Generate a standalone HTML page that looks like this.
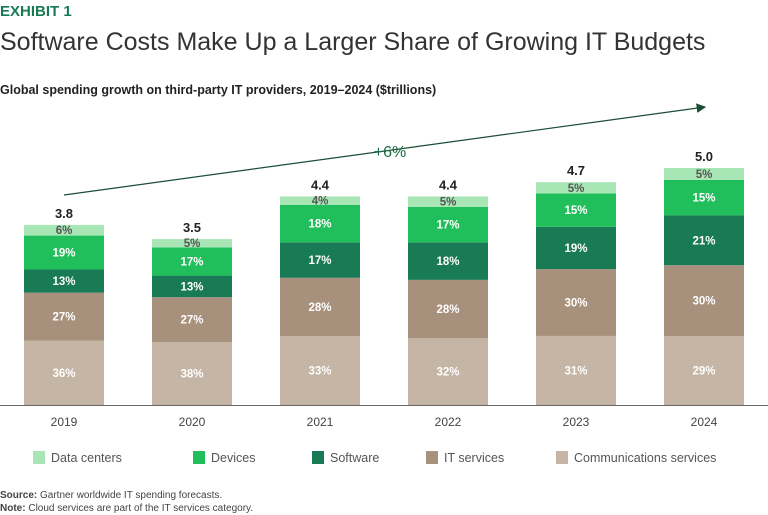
<!DOCTYPE html>
<html><head><meta charset="utf-8">
<style>
body{margin:0;background:#fff;font-family:"Liberation Sans",sans-serif;}
#wrap{position:relative;width:768px;height:515px;overflow:hidden;}
</style></head>
<body>
<div id="wrap">
<svg id="chart" width="768" height="515" font-family="Liberation Sans, sans-serif">
  <text x="0" y="16" font-size="15" font-weight="bold" fill="#197a56">EXHIBIT 1</text>
  <text x="0" y="50" font-size="25" fill="#333">Software Costs Make Up a Larger Share of Growing IT Budgets</text>
  <text x="0" y="94" font-size="12.5" font-weight="bold" fill="#222">Global spending growth on third-party IT providers, 2019–2024 ($trillions)</text>
  <g id="bars"></g>
  <line x1="0" y1="405.5" x2="768" y2="405.5" stroke="#666" stroke-width="1"/>
  <defs><marker id="ah" markerWidth="8" markerHeight="8" refX="7" refY="4" orient="auto"><path d="M0,0L8,4L0,8z" fill="#1b4d36"/></marker></defs>
  <line x1="64" y1="195" x2="705" y2="107" stroke="#1b4d36" stroke-width="1.2" marker-end="url(#ah)"/>
  <text x="390" y="157" font-size="16" fill="#1b6b45" text-anchor="middle">+6%</text>
  <g id="legend" font-size="12.5" fill="#555"></g>
  <text x="0" y="498" font-size="10" fill="#444"><tspan font-weight="bold">Source:</tspan> Gartner worldwide IT spending forecasts.</text>
  <text x="0" y="511" font-size="10" fill="#444"><tspan font-weight="bold">Note:</tspan> Cloud services are part of the IT services category.</text>
</svg>
</div>
<script>
const years = ["2019","2020","2021","2022","2023","2024"];
const totals = [3.8, 3.5, 4.4, 4.4, 4.7, 5.0];
const totalLabels = ["3.8","3.5","4.4","4.4","4.7","5.0"];
const commServices = [36, 38, 33, 32, 31, 29];
const itServices = [27, 27, 28, 28, 30, 30];
const software = [13, 13, 17, 18, 19, 21];
const devices = [19, 17, 18, 17, 15, 15];
const dataCenters = [6, 5, 4, 5, 5, 5];
const seriesNames = ["Communications services","IT services","Software","Devices","Data centers"];

const series = [commServices, itServices, software, devices, dataCenters];
const colors = ["#c4b5a4","#a8917c","#197a56","#21bf5b","#a8e6b5"];
const textColors = ["#fff","#fff","#fff","#fff","#555"];
const NS = "http://www.w3.org/2000/svg";
const baseY = 405, pxPerT = 47.4, barW = 80;
function xCenter(i){ return 64 + i*128; }
function yScale(v){ return baseY - v*pxPerT; }
const g = document.getElementById('bars');
years.forEach((yr,i)=>{
  const total = totals[i];
  let sum = 0; series.forEach(s=>sum+=s[i]);
  let cur = 0;
  series.forEach((s,k)=>{
    const y0 = yScale(total*cur/sum), y1 = yScale(total*(cur+s[i])/sum);
    const r = document.createElementNS(NS,'rect');
    r.setAttribute('x', xCenter(i)-barW/2); r.setAttribute('y', y1);
    r.setAttribute('width', barW); r.setAttribute('height', y0-y1);
    r.setAttribute('fill', colors[k]);
    
    
    g.appendChild(r);
    const t = document.createElementNS(NS,'text');
    t.setAttribute('x', xCenter(i)); t.setAttribute('y', (y0+y1)/2+4);
    t.setAttribute('text-anchor','middle'); t.setAttribute('font-size','11.5');
    t.setAttribute('font-weight','bold'); t.setAttribute('fill', textColors[k]);
    t.textContent = s[i]+'%';
    
    
    g.appendChild(t);
    cur += s[i];
  });
  const tl = document.createElementNS(NS,'text');
  tl.setAttribute('x', xCenter(i)); tl.setAttribute('y', yScale(total)-7);
  tl.setAttribute('text-anchor','middle'); tl.setAttribute('font-size','13');
  tl.setAttribute('font-weight','bold'); tl.setAttribute('fill','#222');
  tl.textContent = totalLabels[i];
  
  
  g.appendChild(tl);
  const xl = document.createElementNS(NS,'text');
  xl.setAttribute('x', xCenter(i)); xl.setAttribute('y', 426);
  xl.setAttribute('text-anchor','middle'); xl.setAttribute('font-size','12');
  xl.setAttribute('fill','#444');
  xl.textContent = yr;
  
  
  g.appendChild(xl);
});
const legendItems = [
  {name:"Data centers", c:colors[4], x:33},
  {name:"Devices", c:colors[3], x:193},
  {name:"Software", c:colors[2], x:312},
  {name:"IT services", c:colors[1], x:426},
  {name:"Communications services", c:colors[0], x:556}
];
const lg = document.getElementById('legend');
legendItems.forEach(it=>{
  const r = document.createElementNS(NS,'rect');
  r.setAttribute('x', it.x); r.setAttribute('y', 451);
  r.setAttribute('width', 12); r.setAttribute('height', 13);
  r.setAttribute('fill', it.c);
  
  
  lg.appendChild(r);
  const t = document.createElementNS(NS,'text');
  t.setAttribute('x', it.x+18); t.setAttribute('y', 462);
  t.textContent = it.name;
  
  
  lg.appendChild(t);
});
</script>
</body></html>
